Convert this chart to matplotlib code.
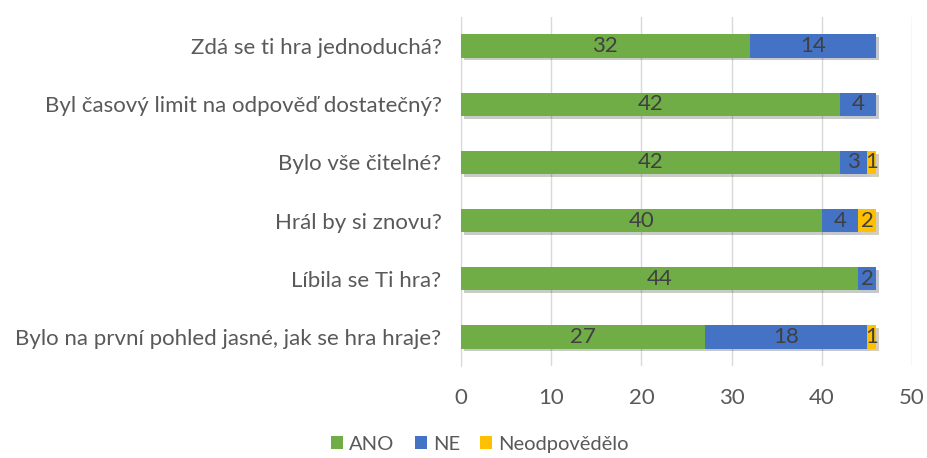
import numpy as np
import matplotlib
matplotlib.use('Agg')
from matplotlib import pyplot as plt
from matplotlib import patheffects as pe

# Data
questions = ['Zdá se ti hra jednoduchá?',
             'Byl časový limit na odpověď dostatečný?',
             'Bylo vše čitelné?',
             'Hrál by si znovu?',
             'Líbila se Ti hra?',
             'Bylo na první pohled jasné, jak se hra hraje?']
ano = [32, 42, 42, 40, 44, 27]
ne = [14, 4, 3, 4, 2, 18]
neodpovedelo = [0, 0, 1, 2, 0, 1]
series_names = ['ANO', 'NE', 'Neodpovědělo']
colors = ['#70AD47', '#4472C4', '#FFC000']

plt.rcParams['font.family'] = ['Lato', 'DejaVu Sans']
txt = '#595959'
fs = 16

fig = plt.figure(figsize=(9.28, 4.58), dpi=100)
ax = fig.add_axes([0.4968, 0.2009, 0.486, 0.762])

y = np.arange(len(questions))
left = np.zeros(len(questions))
shadow = [pe.SimplePatchShadow(offset=(2, -2), alpha=0.25), pe.Normal()]
for vals, name, col in zip([ano, ne, neodpovedelo], series_names, colors):
    vals = np.array(vals, dtype=float)
    bars = ax.barh(y, vals, left=left, height=0.4, color=col, label=name,
                   zorder=3, path_effects=shadow)
    for b, v in zip(bars, vals):
        if v > 0:
            ax.text(b.get_x() + b.get_width() / 2, b.get_y() + b.get_height() / 2,
                    '%d' % v, ha='center', va='center', fontsize=fs,
                    color='#404040', zorder=4)
    left += vals

ax.set_ylim(len(questions) - 0.5, -0.5)
ax.set_xlim(0, 50)
ax.set_xticks(range(0, 51, 10))
ax.set_yticks(y)
ax.set_yticklabels(questions, fontsize=fs, color=txt)
ax.tick_params(axis='x', labelsize=fs, labelcolor=txt, length=0, pad=16)
ax.tick_params(axis='y', length=0, pad=14)
ax.grid(axis='x', color='#D9D9D9', linewidth=1, zorder=0)
for s in ['top', 'right', 'bottom']:
    ax.spines[s].set_visible(False)
ax.spines['left'].set_color('#D9D9D9')

leg = fig.legend(loc='lower center', bbox_to_anchor=(0.517, -0.028), ncol=3,
                 frameon=False, fontsize=14.5, handlelength=0.6, handleheight=0.6,
                 handletextpad=0.3, columnspacing=1.0, labelcolor=txt)
for h in leg.legend_handles:
    h.set_path_effects([])

fig.savefig('out.png', dpi=100)
